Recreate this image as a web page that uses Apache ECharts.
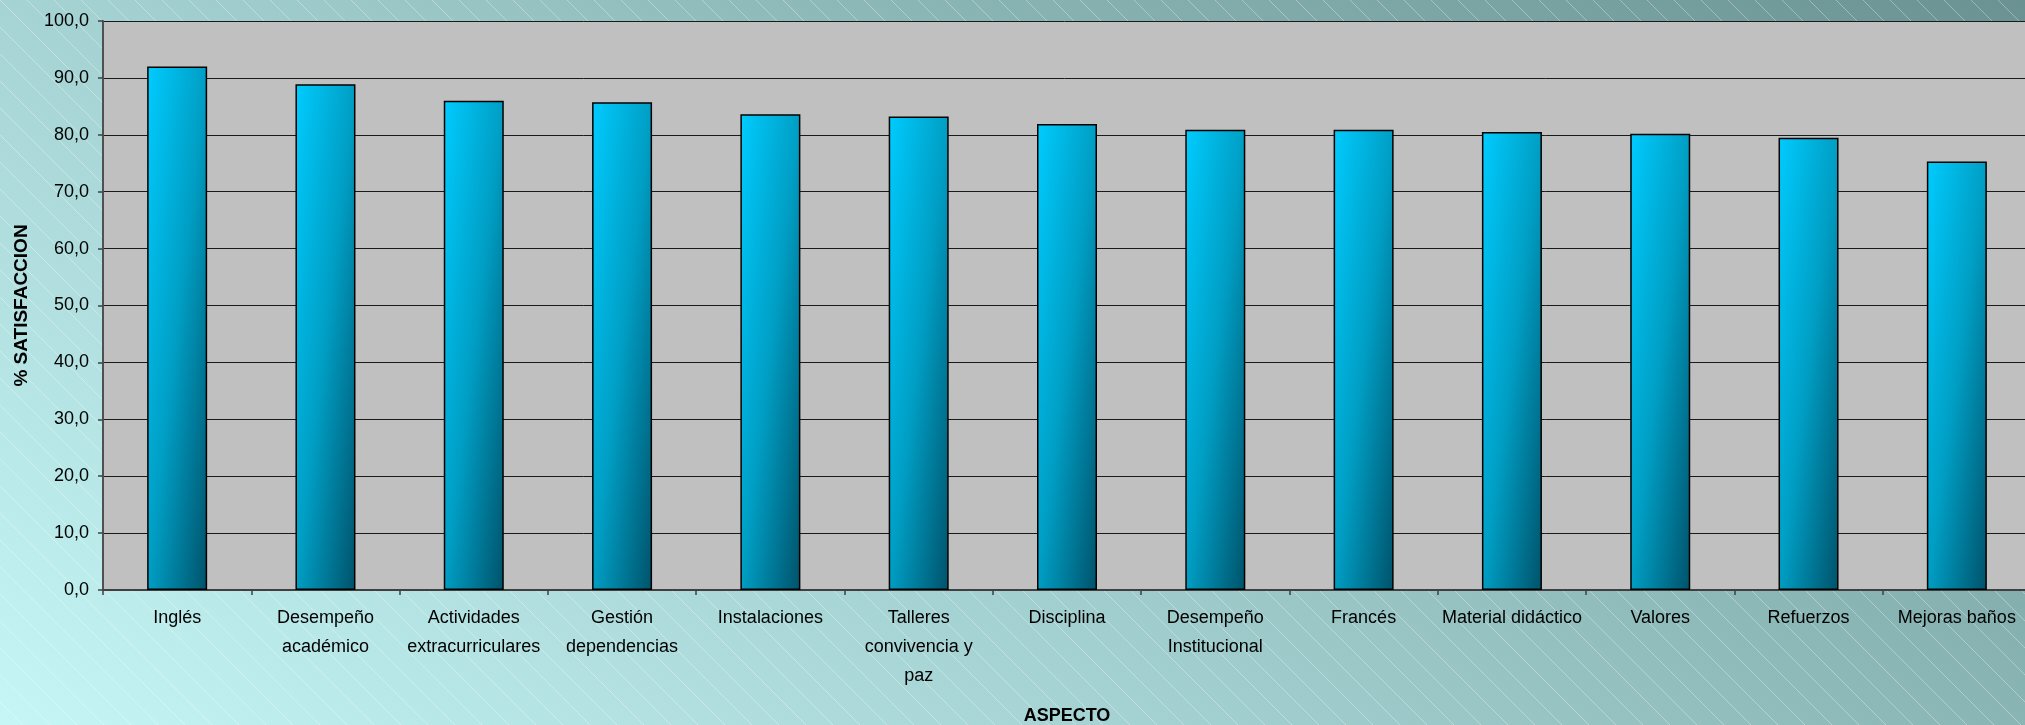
<!DOCTYPE html>
<html>
<head>
<meta charset="utf-8">
<script src="https://cdn.jsdelivr.net/npm/echarts@6/dist/echarts.min.js"></script>
<style>
html,body{margin:0;padding:0;}
#chart{width:2025px;height:725px;}
</style>
</head>
<body>
<div id="chart"></div>
<script>
// ---- data ----
const categories = ['Inglés', 'Desempeño\nacadémico', 'Actividades\nextracurriculares', 'Gestión\ndependencias', 'Instalaciones', 'Talleres\nconvivencia y\npaz', 'Disciplina', 'Desempeño\nInstitucional', 'Francés', 'Material didáctico', 'Valores', 'Refuerzos', 'Mejoras baños'];
const satisfaction = [92.0, 88.9, 86.0, 85.7, 83.6, 83.2, 81.9, 80.9, 80.9, 80.5, 80.2, 79.5, 75.3];
const yMin = 0, yMax = 100, yStep = 10;
const xAxisTitle = 'ASPECTO';
const yAxisTitle = '% SATISFACCION';

// ---- layout / style ----
const W = 2025, H = 725;
const gridTop = 21, gridBottom = 135, gridLeft = 103, gridRight = -6;
const plotH = H - gridTop - gridBottom;
const barW = 60;

function barGradient(v) {
  const h = Math.max(1, (v - yMin) / (yMax - yMin) * plotH);
  const r = (barW * barW) / (h * h);
  return new echarts.graphic.LinearGradient(0, 0, 2 / (1 + r), 2 / (1 / r + 1), [
    {offset: 0, color: '#00CCFF'},
    {offset: 0.5, color: '#009EC4'},
    {offset: 1, color: '#00526A'}
  ]);
}

// hatch pattern
const pc = document.createElement('canvas');
pc.width = 27; pc.height = 27;
const ctx = pc.getContext('2d');
ctx.strokeStyle = 'rgba(255,255,255,0.33)';
ctx.lineWidth = 1;
ctx.beginPath(); ctx.moveTo(-2, -2); ctx.lineTo(29, 29); ctx.stroke();

const chart = echarts.init(document.getElementById('chart'), null, {renderer: 'canvas'});
const font = 'Liberation Sans';
chart.setOption({
  animation: false,
  backgroundColor: new echarts.graphic.LinearGradient(0, 725, 955, -712, [
    {offset: 0, color: '#C6F6F6'},
    {offset: 1, color: '#6A9292'}
  ], true),
  graphic: [{
    type: 'rect', left: 0, top: 0, z: -10, silent: true,
    shape: {width: W, height: H},
    style: {fill: {image: pc, repeat: 'repeat'}}
  }],
  grid: {
    left: gridLeft, right: gridRight, top: gridTop, bottom: gridBottom,
    containLabel: false, outerBoundsMode: 'none',
    show: true, backgroundColor: '#C0C0C0', borderWidth: 0
  },
  xAxis: {
    type: 'category',
    data: categories,
    boundaryGap: true,
    name: xAxisTitle,
    nameLocation: 'middle',
    nameGap: 117,
    nameTextStyle: {fontFamily: font, fontSize: 18, fontWeight: 'bold', color: '#000'},
    axisLine: {show: true, lineStyle: {color: '#404040', width: 2}},
    axisTick: {show: true, alignWithLabel: false, length: 5, lineStyle: {color: '#404040', width: 1.5}},
    axisLabel: {interval: 0, margin: 14, fontFamily: font, fontSize: 18, lineHeight: 29, color: '#000'},
    splitLine: {show: false}
  },
  yAxis: {
    type: 'value',
    min: yMin, max: yMax, interval: yStep,
    name: yAxisTitle,
    nameLocation: 'middle',
    nameGap: 72,
    nameRotate: 90,
    nameTextStyle: {fontFamily: font, fontSize: 19, fontWeight: 'bold', color: '#000'},
    axisLine: {show: true, lineStyle: {color: '#505050', width: 2}},
    axisTick: {show: true, length: 5, lineStyle: {color: '#404040', width: 1.5}},
    axisLabel: {
      margin: 14, fontFamily: font, fontSize: 18, color: '#000',
      formatter: v => v.toFixed(1).replace('.', ',')
    },
    splitLine: {show: true, lineStyle: {color: '#1a1a1a', width: 1}}
  },
  series: [{
    type: 'bar',
    barWidth: barW,
    data: satisfaction.map(v => ({value: v, itemStyle: {color: barGradient(v)}})),
    itemStyle: {borderColor: '#000', borderWidth: 1.5}
  }]
});
</script>
</body>
</html>
